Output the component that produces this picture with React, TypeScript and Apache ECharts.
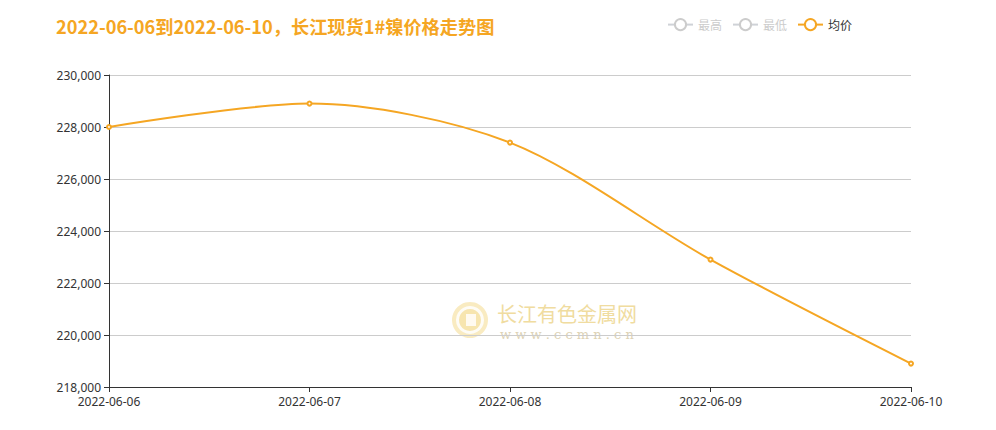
import React, { useEffect, useRef } from "react";
import * as echarts from "echarts";

const titleText = "2022-06-06到2022-06-10，长江现货1#镍价格走势图";
const dates = ["2022-06-06", "2022-06-07", "2022-06-08", "2022-06-09", "2022-06-10"];
const avgPrices = [228000, 228900, 227400, 222900, 218900];
const highPrices: number[] = [];
const lowPrices: number[] = [];
const legendNames = ["最高", "最低", "均价"];

const ORANGE = "#F5A623";

export default function App() {
  const ref = useRef<HTMLDivElement>(null);
  useEffect(() => {
    if (!ref.current) return;
    const chart = echarts.init(ref.current, undefined, { renderer: "svg" });
    chart.setOption({
      animation: false,
      title: {
        text: titleText,
        left: 43,
        top: 4,
        textStyle: { color: ORANGE, fontSize: 18.2, fontWeight: "bold", fontFamily: "Noto Sans CJK SC" },
      },
      legend: {
        data: legendNames,
        right: 131,
        top: 5,
        itemWidth: 25,
        itemHeight: 14,
        itemGap: 10,
        textStyle: { color: "#333", fontSize: 12, fontFamily: "Noto Sans CJK SC" },
        selected: { 最高: false, 最低: false, 均价: true },
        inactiveColor: "#ccc",
      },
      grid: { left: 101, right: 77, top: 67, bottom: 35 },
      xAxis: {
        type: "category",
        data: dates,
        boundaryGap: false,
        axisLine: { lineStyle: { color: "#333" } },
        axisTick: { show: true, lineStyle: { color: "#333" } },
        axisLabel: { color: "#333", fontSize: 12, margin: 8, fontFamily: "Noto Sans" },
      },
      yAxis: {
        type: "value",
        min: 218000,
        max: 230000,
        interval: 2000,
        axisLine: { show: true, lineStyle: { color: "#333" } },
        axisTick: { show: true, lineStyle: { color: "#333" } },
        axisLabel: {
          color: "#333",
          fontSize: 12,
          fontFamily: "Noto Sans",
          formatter: (v: number) => v.toLocaleString("en-US"),
        },
        splitLine: { lineStyle: { color: "#ccc" } },
      },
      graphic: [
        {
          type: "group",
          left: 444,
          top: 294,
          silent: true,
          children: [
            { type: "circle", shape: { cx: 18, cy: 19, r: 18 }, style: { fill: "#f6e3a6", opacity: 0.7 } },
            { type: "circle", shape: { cx: 18, cy: 19, r: 14 }, style: { fill: "#fff", opacity: 0.85 } },
            { type: "circle", shape: { cx: 18, cy: 19, r: 11 }, style: { fill: "#f3db92", opacity: 0.7 } },
            { type: "rect", shape: { x: 14, y: 13, width: 10, height: 12 }, style: { fill: "#fffaf0" } },
            {
              type: "text",
              x: 45,
              y: 2,
              style: { text: "长江有色金属网", fill: "#f0dca0", fontSize: 20, fontFamily: "Noto Sans CJK SC" },
            },
            {
              type: "text",
              x: 48,
              y: 27,
              style: { text: "w w w . c c m n . c n", fill: "#ddd2b4", fontSize: 13, fontFamily: "DejaVu Serif" },
            },
          ],
        },
      ],
      series: [
        { name: "最高", type: "line", data: highPrices, smooth: 0.3, symbol: "emptyCircle", itemStyle: { color: ORANGE } },
        { name: "最低", type: "line", data: lowPrices, smooth: 0.3, symbol: "emptyCircle", itemStyle: { color: ORANGE } },
        {
          name: "均价",
          type: "line",
          data: avgPrices,
          smooth: 0.3,
          symbol: "emptyCircle",
          symbolSize: 4,
          showAllSymbol: true,
          itemStyle: { color: ORANGE },
          lineStyle: { color: ORANGE, width: 2 },
        },
      ],
    });
    return () => chart.dispose();
  }, []);
  return <div ref={ref} style={{ width: 980, height: 414 }} />;
}
